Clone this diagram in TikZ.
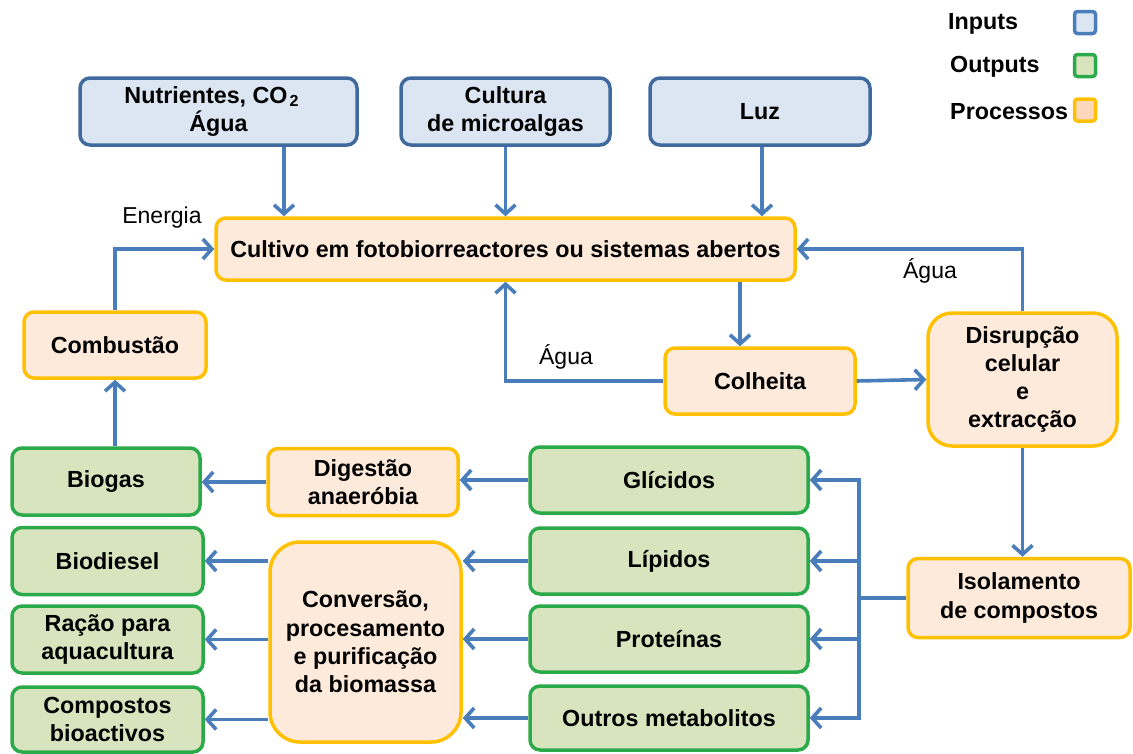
\documentclass[tikz,border=0pt]{standalone}
\usepackage{fontspec}
\setmainfont{Liberation Sans}
\usetikzlibrary{arrows.meta,calc}
\definecolor{lineblue}{HTML}{4A7EBB}
\definecolor{inborder}{HTML}{3F6A9E}
\definecolor{infill}{HTML}{DCE6F2}
\definecolor{outborder}{HTML}{2BAA4A}
\definecolor{outfill}{HTML}{D7E4BD}
\definecolor{procborder}{HTML}{FFC000}
\definecolor{procfill}{HTML}{FDEADA}
\definecolor{legprocfill}{HTML}{FCD7BC}
\tikzset{
  box/.style={rounded corners=10pt, line width=3.5pt, align=center,
    font=\fontsize{23.3}{28.3}\selectfont\bfseries, inner sep=2pt},
  inbox/.style={box, draw=inborder, fill=infill},
  outbox/.style={box, draw=outborder, fill=outfill},
  procbox/.style={box, draw=procborder, fill=procfill},
  sz/.style 2 args={minimum width=#1pt, minimum height=#2pt},
  conn/.style={draw=lineblue, line width=3.6pt},
  arr/.style={conn, -{Straight Barb[length=9pt,width=20pt]}},
  lbl/.style={font=\fontsize{23}{27}\selectfont, inner sep=0pt},
  legtxt/.style={font=\fontsize{23.3}{27}\selectfont\bfseries, anchor=west, inner sep=0pt},
  legbox/.style={rounded corners=3pt, line width=3.5pt, minimum width=21pt, minimum height=22pt, inner sep=0pt}
}
\begin{document}
\begin{tikzpicture}[x=1pt,y=-1pt]
\useasboundingbox (0,0) rectangle (1133,753);
% inputs
\node[inbox, sz={277}{67}] (nut) at (218.5,111.5) {Nutrientes, CO\kern2pt\raisebox{-0.25ex}{\fontsize{16}{16}\selectfont 2}\kern14pt\mbox{}\\Água};
\node[inbox, sz={209}{67}] (cul) at (505.5,111.5) {Cultura\\de microalgas};
\node[inbox, sz={220}{67}] (luz) at (760,111.5) {Luz};
% processes
\node[procbox, sz={579}{62}] (cult) at (505.5,249) {Cultivo em fotobiorreactores ou sistemas abertos};
\node[procbox, sz={182}{66}] (comb) at (115,345) {Combustão};
\node[procbox, sz={190}{66}] (colh) at (760,381) {Colheita};
\node[procbox, sz={189}{133}, rounded corners=24pt] (disr) at (1022.5,379.5) {Disrupção\\celular\\e\\extracção};
\node[procbox, sz={190}{67}] (dig) at (363,482) {Digestão\\anaeróbia};
\node[procbox, sz={222}{79}] (iso) at (1019,598) {Isolamento\\de compostos};
\node[procbox, sz={191}{200}, rounded corners=30pt] (conv) at (365.5,642) {Conversão,\\procesamento\\e purificação\\da biomassa};
% outputs
\node[outbox, sz={188}{67}] (biog) at (106,481.5) {Biogas};
\node[outbox, sz={278}{66}] (gli) at (669,480) {Glícidos};
\node[outbox, sz={278}{66}] (lip) at (669,561) {Lípidos};
\node[outbox, sz={278}{66}] (pro) at (669,639) {Proteínas};
\node[outbox, sz={278}{64}] (out) at (669,718) {Outros metabolitos};
\node[outbox, sz={191}{67}] (biod) at (107.5,561) {Biodiesel};
\node[outbox, sz={191}{67}] (rac) at (107.5,639.5) {Ração para\\aquacultura};
\node[outbox, sz={191}{65}] (comp) at (107.5,719.5) {Compostos\\bioactivos};
% labels
\node[lbl] (energia) at (162,218) {Energia};
\node[lbl] (agua1) at (566,357) {Água};
\node[lbl] (agua2) at (930,271) {Água};
% legend
\node[legtxt] (lin) at (948,24) {Inputs};
\node[legtxt] (lout) at (950,67) {Outputs};
\node[legtxt] (lproc) at (950,112) {Processos};
\node[legbox, draw=lineblue, fill=infill] (bin) at (1085,22.5) {};
\node[legbox, draw=outborder, fill=outfill] (bout) at (1085,65.5) {};
\node[legbox, draw=procborder, fill=legprocfill] (bproc) at (1085,110) {};
% connectors
\coordinate (n1) at ([xshift=65.5pt]nut.south);
\draw[arr] (n1) -- (n1 |- cult.north);
\draw[arr] (cul.south) -- (cul.south |- cult.north);
\coordinate (l1) at ([xshift=2pt]luz.south);
\draw[arr] (l1) -- (l1 |- cult.north);
\draw[arr] (comb.north) |- (cult.west);
\draw[arr] (comb.south |- biog.north) -- (comb.south);
\coordinate (c1) at ([xshift=-20pt]colh.north);
\draw[arr] (c1 |- cult.south) -- (c1);
\draw[arr] (colh.west) -| (cult.south);
\draw[arr] (colh.east) -- (disr.west);
\draw[arr] (disr.north) |- (cult.east);
\draw[arr] (disr.south) -- (disr.south |- iso.north);
\coordinate (tr) at (859,598);
\draw[conn] (iso.west) -- (tr);
\draw[arr] (tr) |- (gli.east);
\draw[arr] (tr) |- (lip.east);
\draw[arr] (tr) |- (pro.east);
\draw[arr] (tr) |- (out.east);
\draw[arr] (gli.west) -- (gli.west -| dig.east);
\draw[arr] (dig.west) -- (dig.west -| biog.east);
\draw[arr] (lip.west) -- (lip.west -| conv.east);
\draw[arr] (pro.west) -- (pro.west -| conv.east);
\draw[arr] (out.west) -- (out.west -| conv.east);
\draw[arr] (biod.east -| conv.west) -- (biod.east);
\draw[arr] (rac.east -| conv.west) -- (rac.east);
\draw[arr] (comp.east -| conv.west) -- (comp.east);
\end{tikzpicture}
\end{document}
